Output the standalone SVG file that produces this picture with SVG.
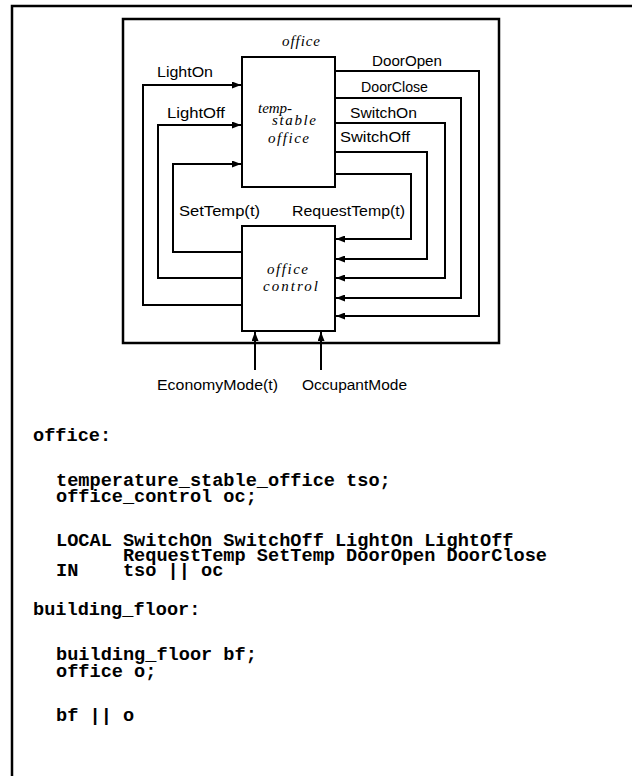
<svg xmlns="http://www.w3.org/2000/svg" width="632" height="776" viewBox="0 0 632 776">
<style>
.frame{fill:none;stroke:#000;stroke-width:2.5}
.box{fill:#fff;stroke:#000;stroke-width:2}
.wire{fill:none;stroke:#000;stroke-width:2}
.lbl{font-family:"Liberation Sans","DejaVu Sans",sans-serif;font-size:14px;fill:#000}
.it{font-family:"Liberation Serif","DejaVu Serif",serif;font-style:italic;font-size:15px;fill:#000}
.code{font-family:"Liberation Mono","DejaVu Sans Mono",monospace;font-weight:bold;font-size:18.6px;fill:#000;white-space:pre}
</style>
<defs>
<marker id="ah" markerUnits="userSpaceOnUse" markerWidth="9" markerHeight="7" refX="9" refY="3.5" orient="auto">
<path d="M0,0 L9,3.5 L0,7 z" fill="#000"/>
</marker>
</defs>
<rect width="632" height="776" fill="#fff"/>
<path class="frame" d="M12,776 V6 H632"/>
<rect class="frame" x="123" y="19" width="376" height="324"/>
<g id="connectors">
<path class="wire" marker-end="url(#ah)" d="M242,305 H143 V85 H241"/>
<path class="wire" marker-end="url(#ah)" d="M242,278 H158 V125 H241"/>
<path class="wire" marker-end="url(#ah)" d="M242,252 H173 V164 H241"/>
<path class="wire" marker-end="url(#ah)" d="M335,71 H479 V316 H336"/>
<path class="wire" marker-end="url(#ah)" d="M335,98 H461 V298 H336"/>
<path class="wire" marker-end="url(#ah)" d="M335,123 H445 V278 H336"/>
<path class="wire" marker-end="url(#ah)" d="M335,152 H427 V259 H336"/>
<path class="wire" marker-end="url(#ah)" d="M335,174 H411 V239 H336"/>
<path class="wire" marker-end="url(#ah)" d="M255,370 V332"/>
<path class="wire" marker-end="url(#ah)" d="M321,370 V332"/>
<text class="lbl" x="157" y="77" textLength="56" lengthAdjust="spacingAndGlyphs">LightOn</text>
<text class="lbl" x="167" y="118" textLength="58" lengthAdjust="spacingAndGlyphs">LightOff</text>
<text class="lbl" x="179" y="216" textLength="81" lengthAdjust="spacingAndGlyphs">SetTemp(t)</text>
<text class="lbl" x="292" y="216" textLength="113" lengthAdjust="spacingAndGlyphs">RequestTemp(t)</text>
<text class="lbl" x="372" y="66" textLength="70" lengthAdjust="spacingAndGlyphs">DoorOpen</text>
<text class="lbl" x="361" y="92" textLength="67" lengthAdjust="spacingAndGlyphs">DoorClose</text>
<text class="lbl" x="350" y="118" textLength="67" lengthAdjust="spacingAndGlyphs">SwitchOn</text>
<text class="lbl" x="340" y="142" textLength="70" lengthAdjust="spacingAndGlyphs">SwitchOff</text>
<text class="lbl" x="157" y="390" textLength="121" lengthAdjust="spacingAndGlyphs">EconomyMode(t)</text>
<text class="lbl" x="302" y="390" textLength="105" lengthAdjust="spacingAndGlyphs">OccupantMode</text>
</g>
<g id="office-label">
<text class="it" x="282" y="46" textLength="38" lengthAdjust="spacing">office</text>
</g>
<g id="temp-stable-office">
<rect class="box" x="242" y="57" width="93" height="130"/>
<text class="it" x="258" y="113" textLength="34" lengthAdjust="spacing">temp-</text>
<text class="it" x="272" y="125" textLength="44" lengthAdjust="spacing">stable</text>
<text class="it" x="268" y="143" textLength="41" lengthAdjust="spacing">office</text>
</g>
<g id="office-control">
<rect class="box" x="242" y="226" width="93" height="105"/>
<text class="it" x="267" y="274" textLength="41" lengthAdjust="spacing">office</text>
<text class="it" x="263" y="291" textLength="55" lengthAdjust="spacing">control</text>
</g>
<g id="code">
<text class="code" x="33" y="441">office:</text>
<text class="code" x="56" y="486">temperature_stable_office tso;</text>
<text class="code" x="56" y="502">office_control oc;</text>
<text class="code" x="56" y="546">LOCAL SwitchOn SwitchOff LightOn LightOff</text>
<text class="code" x="56" y="561">      RequestTemp SetTemp DoorOpen DoorClose</text>
<text class="code" x="56" y="576">IN    tso || oc</text>
<text class="code" x="33" y="615">building_floor:</text>
<text class="code" x="56" y="660">building_floor bf;</text>
<text class="code" x="56" y="677">office o;</text>
<text class="code" x="56" y="721">bf || o</text>
</g>
</svg>
